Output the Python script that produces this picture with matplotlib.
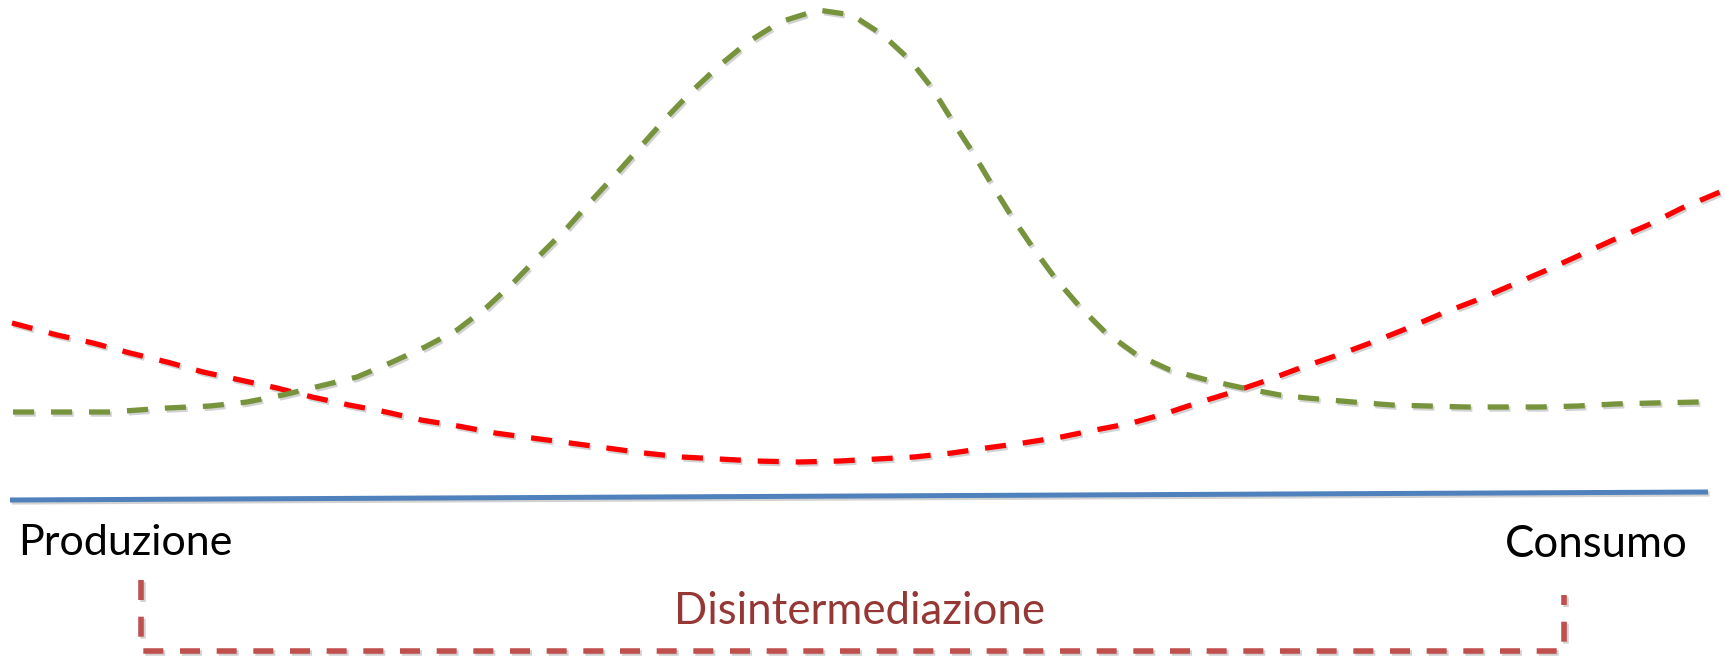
import matplotlib.pyplot as plt
import matplotlib.patheffects as pe

# === dati (coordinate in pixel dell'immagine) ===
green_x = [13, 60, 110, 167, 210, 247, 283, 320, 357, 390, 425, 457, 487, 513,
           540, 567, 592, 617, 642, 667, 693, 720, 748, 780, 818, 852, 883, 910,
           932, 953, 973, 992, 1012, 1033, 1055, 1080, 1105, 1137, 1170, 1207,
           1243, 1280, 1307, 1353, 1392, 1428, 1467, 1503, 1540, 1578, 1615,
           1653, 1700]
green_y = [412, 412, 412, 408, 406, 402, 395, 386, 377, 363, 347, 330, 307, 283,
           255, 228, 200, 173, 145, 117, 90, 65, 42, 22, 10, 15, 35, 60,
           88, 122, 153, 185, 217, 248, 278, 307, 332, 355, 370, 380,
           388, 395, 398, 402, 405, 406, 407, 407, 407, 406, 404,
           403, 402]

red_x = [12, 57, 93, 130, 167, 203, 240, 277, 312, 349, 386, 421, 458, 495, 532,
         570, 607, 644, 682, 719, 756, 799, 840, 877, 914, 952, 986, 1023, 1061,
         1095, 1132, 1167, 1197, 1233, 1268, 1300, 1338, 1373, 1408, 1443, 1477,
         1512, 1547, 1580, 1613, 1648, 1682, 1720]
red_y = [323, 335, 343, 353, 362, 372, 380, 388, 397, 405, 412, 420, 426, 433, 438,
         443, 448, 453, 457, 459, 461, 462, 461, 459, 457, 453, 448, 443, 437,
         430, 423, 413, 403, 392, 380, 368, 355, 342, 328, 313, 300,
         285, 270, 255, 240, 225, 208, 192]

axis_x = [10, 1708]
axis_y = [500, 492]

bracket_x = [141, 141, 1564, 1564]
bracket_y = [580, 651, 651, 595]

label_left = "Produzione"
label_right = "Consumo"
label_bracket = "Disintermediazione"

W, H = 1725, 661
fig = plt.figure(figsize=(W / 100, H / 100), dpi=100)
ax = fig.add_axes([0, 0, 1, 1])
ax.set_xlim(0, W)
ax.set_ylim(H, 0)
ax.axis("off")

shadow = [pe.SimpleLineShadow(offset=(1.2, -1.5), shadow_color="#808080", alpha=0.35),
          pe.Normal()]

ax.plot(axis_x, axis_y, color="#4F81BD", linewidth=3.6, solid_capstyle="butt",
        path_effects=shadow)
ax.plot(red_x, red_y, color="#FF0000", linewidth=3.8, dashes=(4.0, 3.2),
        dash_capstyle="butt", solid_joinstyle="round", path_effects=shadow)
ax.plot(green_x, green_y, color="#77933C", linewidth=3.8, dashes=(4.0, 3.2),
        dash_capstyle="butt", solid_joinstyle="round", path_effects=shadow)
ax.plot(bracket_x, bracket_y, color="#C0504D", linewidth=4.0, dashes=(3.6, 3.0),
        dash_capstyle="butt", path_effects=shadow)

font = ["Lato", "DejaVu Sans"]
ax.text(18, 555, label_left, fontsize=31, family=font, color="black",
        ha="left", va="baseline")
ax.text(1688, 557, label_right, fontsize=31.5, family=font, color="black",
        ha="right", va="baseline")
ax.text(860, 624, label_bracket, fontsize=31.5, family=font, color="#953735",
        ha="center", va="baseline")

fig.savefig("out.png", dpi=100)
